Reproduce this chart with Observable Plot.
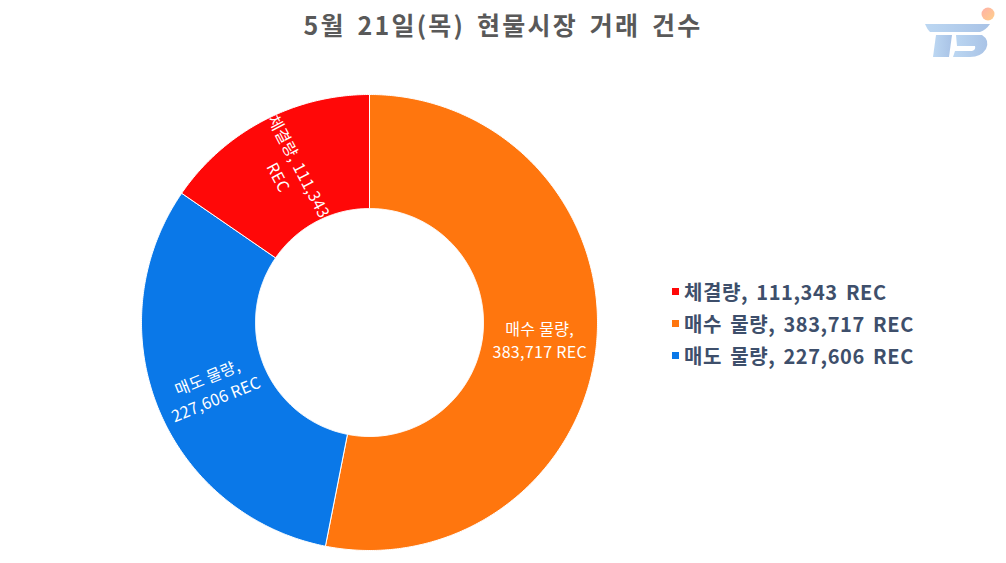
<!DOCTYPE html>
<html>
<head>
<meta charset="utf-8">
<script src="https://cdn.jsdelivr.net/npm/d3@7"></script>
<script src="https://cdn.jsdelivr.net/npm/@observablehq/plot@0.6"></script>
<style>
  html, body { margin: 0; padding: 0; background: #fff; }
  #wrap { position: relative; width: 1006px; height: 563px; overflow: hidden; font-family: "Noto Sans CJK KR", sans-serif; }
  #title { position: absolute; left: 0; top: 6px; width: 1006px; text-align: center; font-size: 25px; font-weight: 700; color: #595959; letter-spacing: 2.2px; word-spacing: 4px; }
  #chart { position: absolute; left: 0; top: 50px; }
  #legend { position: absolute; left: 672px; top: 275px; }
  .li { display: flex; align-items: center; height: 32px; font-size: 20px; font-weight: 700; color: #3E4F6B; letter-spacing: 0.6px; word-spacing: 3px; }
  .sw { width: 7px; height: 7px; margin-right: 5px; }
  #logo { position: absolute; left: 920px; top: 2px; }
</style>
</head>
<body>
<div id="wrap">
  <div id="title">5월 21일(목) 현물시장 거래 건수</div>
  <div id="chart"></div>
  <div id="legend"></div>
  <svg id="logo" width="80" height="62" viewBox="0 0 80 62">
    <defs>
      <linearGradient id="lg" x1="0" x2="1"><stop offset="0" stop-color="#BCD7F2"/><stop offset="1" stop-color="#A9C3E6"/></linearGradient>
      <linearGradient id="cg" x1="0" x2="1" y1="0" y2="1"><stop offset="0" stop-color="#FFB0A8"/><stop offset="1" stop-color="#FFD08A"/></linearGradient>
    </defs>
    <path d="M5 22 H70 Q66 28 60 30 H10 Q7 27 5 22 Z" fill="url(#lg)"/>
    <path d="M16 33 H32 L29 55 H13 Z" fill="url(#lg)"/>
    <path d="M36 33 H62 Q70 38 66 47 Q61 55 50 55 H33 L35 49 H52 Q56 48 55 44 H37 Z" fill="url(#lg)"/>
    <circle cx="68" cy="12" r="6.5" fill="url(#cg)"/>
  </svg>
</div>
<script>
// Data
const categories = ["매수 물량", "매도 물량", "체결량"];
const values = [383717, 227606, 111343];
const colors = ["#FF760E", "#0A78E8", "#FF0808"];
const unit = "REC";

const fmt = d3.format(",");
const innerRatio = 0.5;

const pie = d3.pie().sort(null).value(d => d.value).startAngle(0).endAngle(2 * Math.PI);
const rows = categories.map((c, i) => ({category: c, value: values[i], color: colors[i]}));
const arcs = pie(rows);

// polygon outline for each slice (ring segment), in unit coordinates
function ringPoints(a) {
  const pts = [];
  const n = Math.max(2, Math.ceil((a.endAngle - a.startAngle) / (Math.PI / 360)));
  for (let k = 0; k <= n; k++) {
    const t = a.startAngle + (a.endAngle - a.startAngle) * k / n;
    pts.push({x: Math.sin(t), y: Math.cos(t), category: a.data.category});
  }
  for (let k = n; k >= 0; k--) {
    const t = a.startAngle + (a.endAngle - a.startAngle) * k / n;
    pts.push({x: innerRatio * Math.sin(t), y: innerRatio * Math.cos(t), category: a.data.category});
  }
  pts.push(pts[0]);
  return pts;
}

const labels = arcs.map(a => {
  const mid = (a.startAngle + a.endAngle) / 2;
  const r = (1 + innerRatio) / 2;
  const deg = mid * 180 / Math.PI;
  let rot = deg - 270;
  if (deg < 180) rot = 0;
  return {
    x: r * Math.sin(mid), y: r * Math.cos(mid),
    text: a.data.category === "체결량"
      ? `${a.data.category}, ${fmt(a.data.value)}\n${unit}`
      : `${a.data.category},\n${fmt(a.data.value)} ${unit}`,
    rotate: rot
  };
});

const W = 1006, H = 513;
const R = 228, cx = 369, cy = 272;

const marks = arcs.map(a => Plot.line(ringPoints(a), {
  x: "x", y: "y", fill: a.data.color, stroke: "#fff", strokeWidth: 1, curve: "linear"
}));
marks.push(Plot.text(labels, {
  x: "x", y: "y", text: "text", rotate: "rotate", fill: "#fff",
  fontSize: 16, lineHeight: 1.45, textAnchor: "middle", lineAnchor: "middle",
  fontFamily: "Noto Sans CJK KR"
}));

const chart = Plot.plot({
  width: W, height: H,
  margin: 0,
  x: {domain: [-cx / R, (W - cx) / R], range: [0, W], axis: null},
  y: {domain: [-(H - cy) / R, cy / R], range: [H, 0], axis: null},
  style: {background: "transparent", overflow: "visible", letterSpacing: "0.3px"},
  marks
});
document.getElementById("chart").appendChild(chart);

// Legend (order: 체결량, 매수 물량, 매도 물량)
const legendOrder = ["체결량", "매수 물량", "매도 물량"];
const leg = document.getElementById("legend");
legendOrder.forEach(c => {
  const i = categories.indexOf(c);
  const div = document.createElement("div");
  div.className = "li";
  div.innerHTML = `<span class="sw" style="background:${colors[i]}"></span><span>${c}, ${fmt(values[i])} ${unit}</span>`;
  leg.appendChild(div);
});
</script>
</body>
</html>
